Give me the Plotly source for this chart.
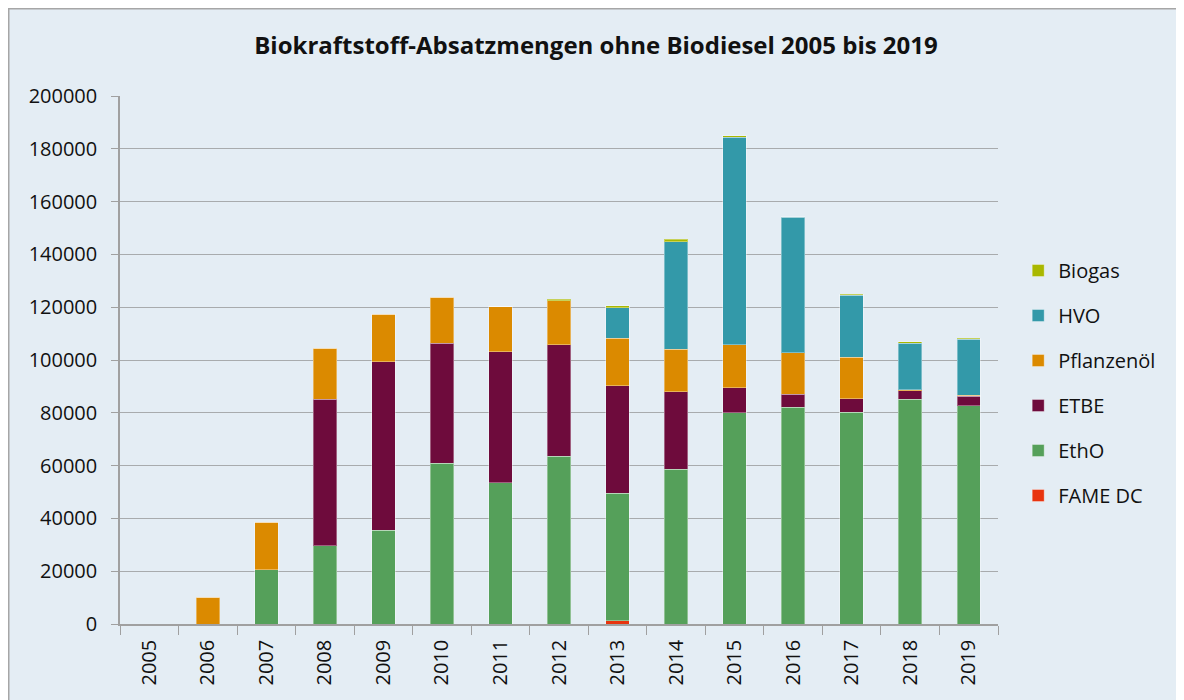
import plotly.graph_objects as go

years = [str(y) for y in range(2005, 2020)]
fame_dc = [0, 0, 0, 0, 0, 0, 0, 0, 1300, 0, 0, 0, 0, 0, 0]
etho = [0, 0, 20500, 29700, 35600, 60900, 53500, 63600, 48200, 58700, 80000, 82100, 80300, 85100, 82600]
etbe = [0, 0, 0, 55400, 63800, 45400, 49700, 42100, 40800, 29300, 9500, 4900, 5100, 3300, 3600]
pflanzenoel = [0, 10200, 18000, 19300, 17900, 17400, 17000, 16800, 17900, 16000, 16200, 15700, 15600, 300, 400]
hvo = [0, 0, 0, 0, 0, 0, 0, 0, 11600, 40800, 78600, 51300, 23600, 17700, 21200]
biogas = [0, 0, 0, 0, 0, 0, 0, 600, 800, 1000, 700, 300, 400, 500, 400]

series = [
    ("FAME DC", fame_dc, "#E8340F"),
    ("EthO", etho, "#55A05A"),
    ("ETBE", etbe, "#6E0B3C"),
    ("Pflanzenöl", pflanzenoel, "#DB8A00"),
    ("HVO", hvo, "#3399A9"),
    ("Biogas", biogas, "#A9B800"),
]

FONT = "Open Sans"
TXT = "#111111"
fig = go.Figure()
n = len(series)
for i, (name, vals, col) in enumerate(series):
    fig.add_trace(go.Bar(
        x=years, y=vals, name=name, legendgroup=name, legendrank=n - i,
        marker=dict(color=col, line=dict(color="rgba(255,255,255,0.35)", width=1)),
    ))

L, R, T, B = 112, 194, 88, 84
PW = 1184 - L - R
PH = 700 - T - B

fig.update_layout(
    barmode="stack",
    bargap=0.6,
    width=1184, height=700,
    margin=dict(l=L, r=R, t=T, b=B),
    paper_bgcolor="white",
    plot_bgcolor="rgba(0,0,0,0)",
    font=dict(family=FONT, size=20, color=TXT),
    title=dict(text="<b>Biokraftstoff-Absatzmengen ohne Biodiesel 2005 bis 2019</b>",
               x=588 / 1184, xanchor="center", y=1 - 38 / 700, yanchor="middle",
               font=dict(family=FONT, size=24, color=TXT)),
    legend=dict(traceorder="grouped", x=1.023, xanchor="left", y=0.7064, yanchor="top",
                font=dict(size=20, color=TXT), tracegroupgap=16, bgcolor="rgba(0,0,0,0)",
                itemwidth=30),
    xaxis=dict(type="category", tickangle=-90, ticks="outside", tickson="boundaries",
               ticklen=9, tickcolor="#A0A0A0", showline=True, linecolor="#A0A0A0",
               linewidth=1.5, showgrid=False, tickfont=dict(size=20),
               ticklabelstandoff=6),
    yaxis=dict(range=[0, 200000], dtick=20000, tickformat="d", ticks="outside",
               ticklen=7, tickcolor="#A0A0A0", showline=True, linecolor="#A0A0A0",
               linewidth=1.5, gridcolor="#A8ABAD", gridwidth=1.2, zeroline=False,
               tickfont=dict(size=20), ticklabelstandoff=10),
    shapes=[dict(type="rect", xref="paper", yref="paper",
                 x0=(0.75 - L) / PW, x1=(1200 - L) / PW,
                 y0=(T + PH - 710) / PH, y1=(T + PH - 0.75) / PH,
                 fillcolor="#E4EDF4", line=dict(color="#A6A6A6", width=1.5),
                 layer="below")],
)

fig.write_html("out.html")
